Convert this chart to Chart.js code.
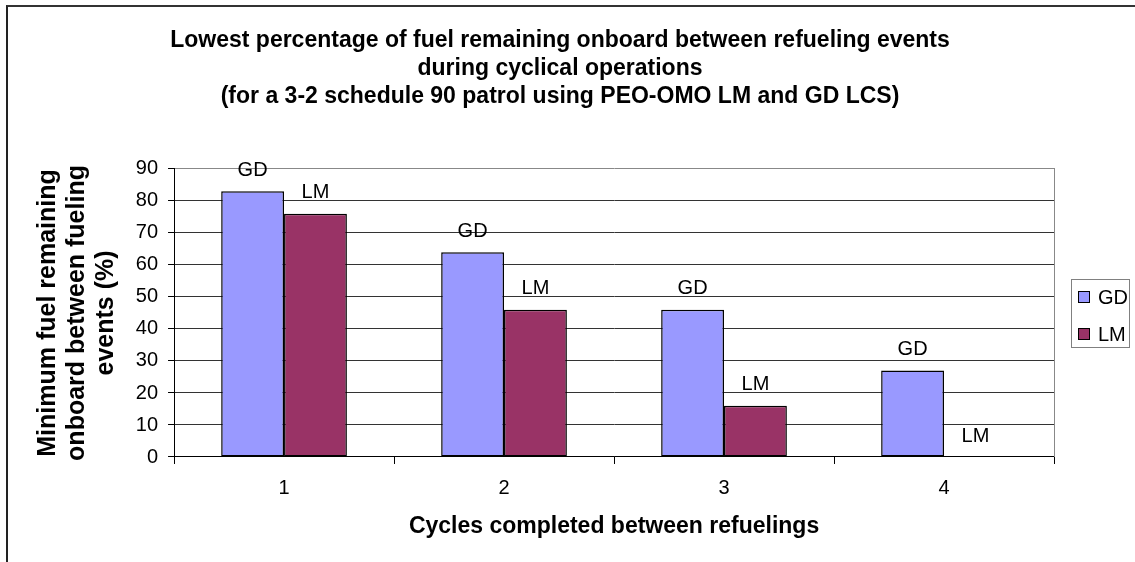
<!DOCTYPE html>
<html>
<head>
<meta charset="utf-8">
<script src="https://cdn.jsdelivr.net/npm/chart.js@4/dist/chart.umd.min.js"></script>
<style>
    html, body { margin: 0; padding: 0; background: #fff; overflow: hidden; }
    #frame {
        position: absolute; left: 6px; top: 5px; width: 1200px; height: 600px;
        border-top: 2px solid #333; border-left: 2px solid #222;
    }
    #wrap { position: absolute; left: 0; top: 0; width: 1135px; height: 562px; }
</style>
</head>
<body>
<div id="frame"></div>
<div id="wrap"><canvas id="fuel-chart"></canvas></div>
<script>
    // valores
    var cycles = ["1", "2", "3", "4"];
    var gdValues = [83, 64, 46, 27];
    var lmValues = [76, 46, 16, 0];
    var yTicks = [0, 10, 20, 30, 40, 50, 60, 70, 80, 90];

    var titleLines = [
        "Lowest percentage of fuel remaining onboard between refueling events",
        "during cyclical operations",
        "(for a 3-2 schedule 90 patrol using PEO-OMO LM and GD LCS)"
    ];
    var yTitleLines = ["Minimum fuel remaining", "onboard between fueling", "events (%)"];
    var xTitle = "Cycles completed between refuelings";

    var family = 'Arial, "Liberation Sans", sans-serif';
    Chart.defaults.font.family = family;
    Chart.defaults.color = "#000";

    /**
     * Rótulo da série em cima de cada barra (GD / LM).
     */
    var barLabels = {
        id: "barLabels",
        afterDatasetsDraw: function (chart) {
            var ctx = chart.ctx;
            ctx.save();
            ctx.font = "20px " + family;
            ctx.fillStyle = "#000";
            ctx.textAlign = "center";
            ctx.textBaseline = "middle";
            chart.data.datasets.forEach(function (ds, i) {
                chart.getDatasetMeta(i).data.forEach(function (bar) {
                    ctx.fillText(ds.label, bar.x, bar.y - 21);
                });
            });
            ctx.restore();
        }
    };

    /**
     * Legenda com moldura, centrada na área do gráfico.
     */
    var legendBox = {
        id: "legendBox",
        afterDraw: function (chart) {
            var ctx = chart.ctx,
                area = chart.chartArea,
                w = 58, h = 68,
                x = Math.round(area.right + 17),
                y = Math.round((area.top + area.bottom) / 2 - h / 2);
            ctx.save();
            ctx.strokeStyle = "#808080";
            ctx.lineWidth = 1;
            ctx.strokeRect(x + 0.5, y + 0.5, w, h);
            ctx.font = "20px " + family;
            ctx.textBaseline = "middle";
            chart.data.datasets.forEach(function (ds, i) {
                var cy = y + 18 + i * 37;
                ctx.fillStyle = ds.backgroundColor;
                ctx.fillRect(x + 7, cy - 6, 11, 11);
                ctx.strokeStyle = "#000";
                ctx.strokeRect(x + 7.5, cy - 5.5, 11, 11);
                ctx.fillStyle = "#000";
                ctx.fillText(ds.label, x + 27, cy + 1);
            });
            ctx.restore();
        }
    };

    new Chart(document.getElementById("fuel-chart"), {
        type: "bar",
        data: {
            labels: cycles,
            datasets: [
                {
                    label: "GD",
                    data: gdValues,
                    backgroundColor: "#9999FF",
                    borderColor: "#000",
                    borderWidth: 1.5,
                    borderSkipped: false
                },
                {
                    label: "LM",
                    data: lmValues,
                    backgroundColor: "#993366",
                    borderColor: "#000",
                    borderWidth: 1.5,
                    borderSkipped: false
                }
            ]
        },
        options: {
            responsive: true,
            maintainAspectRatio: false,
            animation: false,
            datasets: {
                bar: { categoryPercentage: 2 / 3.5, barPercentage: 1 }
            },
            layout: { padding: { left: 0, right: 15, top: 0, bottom: 0 } },
            plugins: {
                legend: { display: false },
                tooltip: { enabled: false },
                title: {
                    display: true,
                    text: titleLines,
                    color: "#000",
                    font: { size: 23, weight: "bold", lineHeight: 1.217 },
                    padding: { top: 27, bottom: 58 }
                }
            },
            scales: {
                x: {
                    grid: {
                        display: true,
                        drawOnChartArea: false,
                        drawTicks: true,
                        tickLength: 7,
                        color: "#000",
                        offset: true
                    },
                    border: { display: true, color: "#000", width: 1 },
                    ticks: { font: { size: 20 }, padding: 12, color: "#000" },
                    title: {
                        display: true,
                        text: xTitle,
                        color: "#000",
                        font: { size: 23, weight: "bold", lineHeight: 1.17 },
                        padding: { top: 1.5, bottom: 21.6 }
                    }
                },
                y: {
                    min: 0,
                    max: 90,
                    afterBuildTicks: function (scale) {
                        scale.ticks = yTicks.map(function (v) { return { value: v }; });
                    },
                    grid: {
                        color: function (c) { return c.tick && c.tick.value === 90 ? "#888" : "#333"; },
                        tickLength: 6,
                        tickColor: "#000"
                    },
                    border: { display: true, color: "#000", width: 1 },
                    ticks: { font: { size: 20 }, padding: 10, color: "#000" },
                    title: {
                        display: true,
                        text: yTitleLines,
                        color: "#000",
                        font: { size: 25, weight: "bold", lineHeight: 1.16 },
                        padding: { top: 33.5, bottom: 5.3 }
                    }
                },
                // eixo vazio só para reservar espaço da legenda e desenhar a borda direita
                legendSpace: {
                    type: "linear",
                    position: "right",
                    min: 0,
                    max: 90,
                    ticks: { display: false },
                    grid: { display: false, drawTicks: false },
                    border: { display: true, color: "#888", width: 1 },
                    afterFit: function (scale) { scale.width = 66; }
                }
            }
        },
        plugins: [barLabels, legendBox]
    });
</script>
</body>
</html>
